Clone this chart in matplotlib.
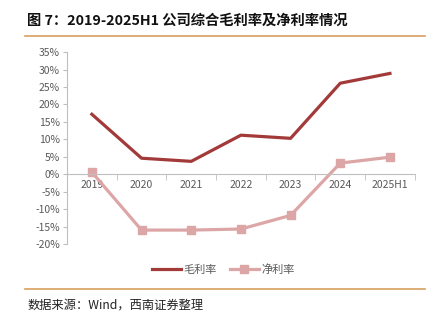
import matplotlib
matplotlib.use("Agg")
import matplotlib.pyplot as plt
from matplotlib.lines import Line2D
import numpy as np

plt.rcParams['font.family'] = ['Noto Sans CJK SC', 'DejaVu Sans']

years = ['2019', '2020', '2021', '2022', '2023', '2024', '2025H1']
gross_margin = [17.2, 4.6, 3.7, 11.2, 10.3, 26.1, 28.9]
net_margin = [0.6, -16.0, -16.0, -15.7, -11.8, 3.2, 4.9]

c_gross = '#A33A3A'
c_net = '#DDA6A6'
c_rule = '#D9A060'
c_text = '#595959'

fig = plt.figure(figsize=(4.38, 3.28), dpi=100)
ax = fig.add_axes([0.153, 0.256, 0.794, 0.585])

x = np.arange(len(years))
ax.plot(x, gross_margin, color=c_gross, lw=2.3)
ax.plot(x, net_margin, color=c_net, lw=2.3, marker='s', ms=5.5,
        markeredgecolor=c_net)

ax.set_xlim(-0.5, len(years) - 0.5)
ax.set_ylim(-20, 35)
ax.set_yticks(np.arange(-20, 36, 5))
ax.set_yticklabels([f'{v}%' for v in range(-20, 36, 5)], fontsize=7.5, color=c_text)

for s in ['top', 'right']:
    ax.spines[s].set_visible(False)
ax.spines['left'].set_color('#BFBFBF')
ax.spines['bottom'].set_position(('data', 0))
ax.spines['bottom'].set_color('#BFBFBF')
ax.tick_params(axis='y', length=3, color='#BFBFBF', pad=2)

ax.set_xticks(x)
ax.set_xticklabels(years, fontsize=7.5, color=c_text)
ax.tick_params(axis='x', length=0, pad=4)
ax.set_xticks(np.arange(-0.5, len(years), 1), minor=True)
ax.tick_params(axis='x', which='minor', length=4, color='#BFBFBF')

handles = [Line2D([], [], color=c_gross, lw=2.3),
           Line2D([], [], color=c_net, lw=2.3, marker='s', ms=5.5)]
leg = fig.legend(handles, ['毛利率', '净利率'], loc='center', bbox_to_anchor=(0.51, 0.177),
                 ncol=2, frameon=False, fontsize=8, handlelength=2.6, handletextpad=0.2,
                 columnspacing=1.2)
for t in leg.get_texts():
    t.set_color(c_text)

fig.text(0.062, 0.938, '图 7：2019-2025H1 公司综合毛利率及净利率情况', fontsize=10.3,
         fontweight='bold', va='center', ha='left', color='#111111')
fig.add_artist(Line2D([0.057, 0.97], [0.89, 0.89], color=c_rule, lw=1.2))
fig.add_artist(Line2D([0.057, 0.97], [0.119, 0.119], color=c_rule, lw=1.2))
fig.text(0.062, 0.07, '数据来源：Wind，西南证券整理', fontsize=8.8, style='italic',
         va='center', ha='left', color='#222222')

fig.savefig('out.png', dpi=100)
